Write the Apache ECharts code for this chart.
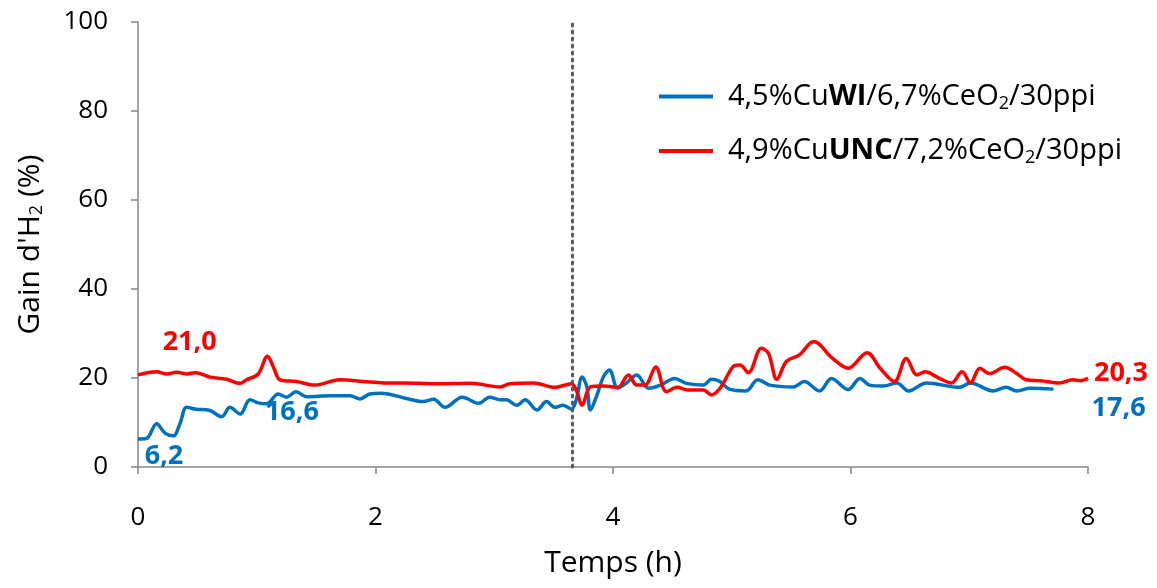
<!DOCTYPE html>
<html><head><meta charset="utf-8">
<script src="https://cdn.jsdelivr.net/npm/echarts@6/dist/echarts.min.js"></script>
<style>html,body{margin:0;padding:0;background:#fff}#c{width:1157px;height:588px}</style>
</head><body><div id="c"></div>
<script>
// ---- data ----
const blueTime = [0,0.07,0.157,0.227,0.297,0.354,0.41,0.49,0.606,0.705,0.774,0.86,0.943,1.013,1.084,1.18,1.25,1.33,1.42,1.617,1.785,1.87,1.95,2.05,2.26,2.40,2.49,2.585,2.73,2.87,2.96,3.05,3.10,3.19,3.26,3.36,3.44,3.51,3.58,3.65,3.69,3.74,3.78,3.81,3.86,3.92,3.97,4.04,4.11,4.20,4.30,4.40,4.52,4.62,4.76,4.83,4.90,4.98,5.12,5.22,5.32,5.52,5.61,5.74,5.84,5.98,6.08,6.16,6.28,6.39,6.49,6.64,6.92,7.01,7.20,7.31,7.40,7.51,7.71];
const blueGain = [6.3,6.4,9.7,7.6,7.0,9.8,13.4,13.0,12.7,11.3,13.4,11.9,15.1,14.4,14.2,16.4,15.7,16.9,15.8,16.0,16.0,15.3,16.4,16.6,15.4,14.7,15.2,13.4,15.7,14.3,15.7,15.1,15.1,13.9,15.1,12.8,14.7,13.4,13.9,13.0,15.1,20.2,18.0,12.8,15.8,20.3,21.8,17.7,18.8,20.7,17.7,18.4,19.9,18.8,18.4,19.7,19.2,17.5,17.1,19.6,18.4,18.0,19.2,17.1,19.9,17.4,19.9,18.4,18.2,18.9,17.1,18.9,17.9,18.9,17.1,17.9,17.1,17.7,17.5];
const redTime = [0,0.157,0.24,0.326,0.41,0.48,0.606,0.746,0.86,0.914,1.013,1.09,1.14,1.196,1.336,1.49,1.70,1.9,2.07,2.23,2.51,2.80,3.05,3.13,3.33,3.51,3.65,3.69,3.74,3.81,3.92,4.04,4.13,4.20,4.27,4.36,4.45,4.54,4.63,4.76,4.83,4.91,5.01,5.07,5.14,5.25,5.31,5.38,5.46,5.57,5.69,5.85,5.98,6.14,6.25,6.37,6.47,6.56,6.63,6.73,6.85,6.94,7.01,7.09,7.17,7.30,7.40,7.48,7.60,7.76,7.87,7.94,8.0];
const redGain = [20.7,21.4,20.9,21.3,20.9,21.2,20.2,19.7,18.8,19.6,20.9,24.9,22.5,19.6,19.2,18.4,19.6,19.2,18.9,18.9,18.7,18.8,18.0,18.7,18.9,17.9,18.7,17.3,13.9,18.0,18.2,17.9,20.7,18.4,18.4,22.5,16.9,17.9,17.3,17.3,16.2,18.0,22.5,22.9,21.2,26.7,25.5,19.7,23.7,25.2,28.2,24.4,22.2,25.7,22.2,19.2,24.4,20.7,21.4,20.2,18.9,21.4,18.9,22.2,21.0,22.4,21.0,19.6,19.4,18.9,19.6,19.4,19.9];
const seriesNames = ['4,5%CuWI/6,7%CeO2/30ppi', '4,9%CuUNC/7,2%CeO2/30ppi'];
const xTicks = [0, 2, 4, 6, 8];
const yTicks = [0, 20, 40, 60, 80, 100];
const switchTime = 3.66;
// annotated values: [point index, text]
const blueNotes = [[0, '6,2'], [17, '16,6'], [blueTime.length - 1, '17,6']];
const redNotes = [[1, '21,0'], [redTime.length - 1, '20,3']];

const BLUE = '#0070C0', RED = '#FF0000';
const FONT = 'Open Sans';
const zip = (a, b) => a.map((t, i) => [t, b[i]]);
const blueData = zip(blueTime, blueGain);
const redData = zip(redTime, redGain);
const noteOffsets = { '6,2': [26, 17], '16,6': [-4, 21], '17,6': [65, 19], '21,0': [33, -29], '20,3': [33, -5] };
function notePoints(data, notes) {
  return notes.map(([i, txt]) => ({ value: data[i], name: txt, label: { offset: noteOffsets[txt] } }));
}
function noteLabel(color) {
  return { show: true, position: 'inside', formatter: p => p.name, color: color, opacity: 1,
    textBorderWidth: 0, textBorderColor: 'transparent', textShadowBlur: 0,
    fontFamily: FONT, fontWeight: 'bold', fontSize: 27 };
}

const chart = echarts.init(document.getElementById('c'));
const richLeg = {
  n: { fontFamily: FONT, fontSize: 29, color: '#000' },
  b: { fontFamily: FONT, fontSize: 29, color: '#000', fontWeight: 'bold' },
  s: { fontFamily: FONT, fontSize: 18, color: '#000', padding: [14, 0, 0, 0] }
};
chart.setOption({
  animation: false,
  grid: { left: 138, right: 69, top: 22, bottom: 121, containLabel: false },
  legend: {
    orient: 'vertical', left: 654, top: 77, itemGap: 24,
    icon: 'rect', itemWidth: 54, itemHeight: 4,
    data: seriesNames,
    textStyle: { rich: richLeg, padding: [0, 0, 0, 10] },
    formatter: function (name) {
      if (name === seriesNames[0]) return '{n|4,5%Cu}{b|WI}{n|/6,7%CeO}{s|2}{n|/30ppi}';
      return '{n|4,9%Cu}{b|UNC}{n|/7,2%CeO}{s|2}{n|/30ppi}';
    }
  },
  xAxis: {
    type: 'value', min: xTicks[0], max: xTicks[xTicks.length - 1], interval: 2,
    name: 'Temps (h)', nameLocation: 'middle', nameGap: 81,
    nameTextStyle: { fontFamily: FONT, fontSize: 30, color: '#000' },
    axisLine: { show: true, lineStyle: { color: '#868686', width: 1.5 } },
    axisTick: { show: true, length: 7, lineStyle: { color: '#868686', width: 1.5 } },
    axisLabel: { fontFamily: FONT, fontSize: 26, color: '#000', margin: 38 },
    splitLine: { show: false }
  },
  yAxis: {
    type: 'value', min: yTicks[0], max: yTicks[yTicks.length - 1], interval: 20,
    name: "{n|Gain d'H}{s|2}{n| (%)}", nameLocation: 'middle', nameGap: 92, nameRotate: 90,
    nameTextStyle: { rich: {
      n: { fontFamily: FONT, fontSize: 30, color: '#000' },
      s: { fontFamily: FONT, fontSize: 18, color: '#000', padding: [14, 0, 0, 0] } } },
    axisLine: { show: true, lineStyle: { color: '#868686', width: 1.5 } },
    axisTick: { show: true, length: 7, lineStyle: { color: '#868686', width: 1.5 } },
    axisLabel: { fontFamily: FONT, fontSize: 26, color: '#000', margin: 30 },
    splitLine: { show: false }
  },
  series: [
    {
      name: seriesNames[0], type: 'line', data: blueData, smooth: 0.35,
      showSymbol: false, symbol: 'none', color: BLUE,
      lineStyle: { color: BLUE, width: 3.5 },
      markLine: {
        silent: true, symbol: 'none', label: { show: false },
        lineStyle: { color: '#595959', type: [2, 5], width: 3, cap: 'round' },
        data: [{ xAxis: switchTime }]
      }
    },
    {
      name: seriesNames[1], type: 'line', data: redData, smooth: 0.35,
      showSymbol: false, symbol: 'none', color: RED,
      lineStyle: { color: RED, width: 3.5 }
    },
    {
      type: 'scatter', data: notePoints(blueData, blueNotes), symbolSize: 0, silent: true,
      itemStyle: { color: BLUE, opacity: 1 }, label: noteLabel(BLUE)
    },
    {
      type: 'scatter', data: notePoints(redData, redNotes), symbolSize: 0, silent: true,
      itemStyle: { color: RED, opacity: 1 }, label: noteLabel(RED)
    }
  ]
});
</script></body></html>
